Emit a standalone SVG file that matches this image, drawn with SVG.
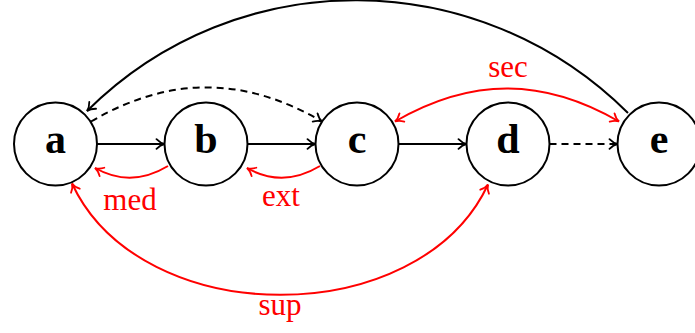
<svg xmlns="http://www.w3.org/2000/svg" width="695" height="333" viewBox="0 0 695 333">
<style>
.node circle{fill:#fff;stroke:#000;stroke-width:2}
.node text{font-family:"Liberation Serif",serif;font-weight:bold;font-size:42px;text-anchor:middle}
.e{fill:none;stroke:#000;stroke-width:2}
.r{stroke:#f00}
.d{stroke-dasharray:7 5}
.lbl{font-family:"Liberation Serif",serif;font-size:31px;fill:#f00;text-anchor:middle}
</style>
<defs>
<marker id="ak" markerUnits="userSpaceOnUse" viewBox="-10 -6 12 12" refX="0" refY="0" markerWidth="12" markerHeight="12" orient="auto-start-reverse">
<path d="M-8,-4.8 C-5,-1.7 -1.6,-0.3 0,0 C-1.6,0.3 -5,1.7 -8,4.8" fill="none" stroke="#000" stroke-width="1.8" stroke-linecap="round"/>
</marker>
<marker id="ar" markerUnits="userSpaceOnUse" viewBox="-10 -6 12 12" refX="0" refY="0" markerWidth="12" markerHeight="12" orient="auto-start-reverse">
<path d="M-8,-4.8 C-5,-1.7 -1.6,-0.3 0,0 C-1.6,0.3 -5,1.7 -8,4.8" fill="none" stroke="#f00" stroke-width="1.8" stroke-linecap="round"/>
</marker>
</defs>
<g id="connectors">
<path class="e" d="M97,144 L164.5,144" marker-end="url(#ak)"/>
<path class="e" d="M247.5,144 L315.5,144" marker-end="url(#ak)"/>
<path class="e" d="M398.5,144 L466.5,144" marker-end="url(#ak)"/>
<path class="e d" d="M549.5,144 L617.5,144" marker-end="url(#ak)"/>
<path class="e d" d="M91,121.5 C169,76 244,76 322,121.5" marker-end="url(#ak)"/>
<path class="e" d="M628,113 C478,-36 237,-38 87,111" marker-end="url(#ak)"/>
<path class="e r" d="M395,121.5 C471,77.5 543,77.5 619,121.5" marker-start="url(#ar)" marker-end="url(#ar)"/>
<path class="e r" d="M168,166 C144,180.5 119,181.5 95,168" marker-end="url(#ar)"/>
<path class="e r" d="M320,166 C296,180.5 271,181.5 247,168" marker-end="url(#ar)"/>
<path class="e r" d="M72,183.5 C141,331.5 419,332 488,184.5" marker-start="url(#ar)" marker-end="url(#ar)"/>
<text class="lbl" x="130" y="210">med</text>
<text class="lbl" x="281" y="206">ext</text>
<text class="lbl" x="508" y="77">sec</text>
<text class="lbl" x="280" y="315">sup</text>
</g>
<g id="a" class="node"><circle cx="55.5" cy="144" r="41.5"/><text x="55.5" y="153">a</text></g>
<g id="b" class="node"><circle cx="206" cy="144" r="41.5"/><text x="206" y="153">b</text></g>
<g id="c" class="node"><circle cx="357" cy="144" r="41.5"/><text x="357" y="153">c</text></g>
<g id="d" class="node"><circle cx="508" cy="144" r="41.5"/><text x="508" y="153">d</text></g>
<g id="e" class="node"><circle cx="659" cy="144" r="41.5"/><text x="659" y="153">e</text></g>
</svg>
